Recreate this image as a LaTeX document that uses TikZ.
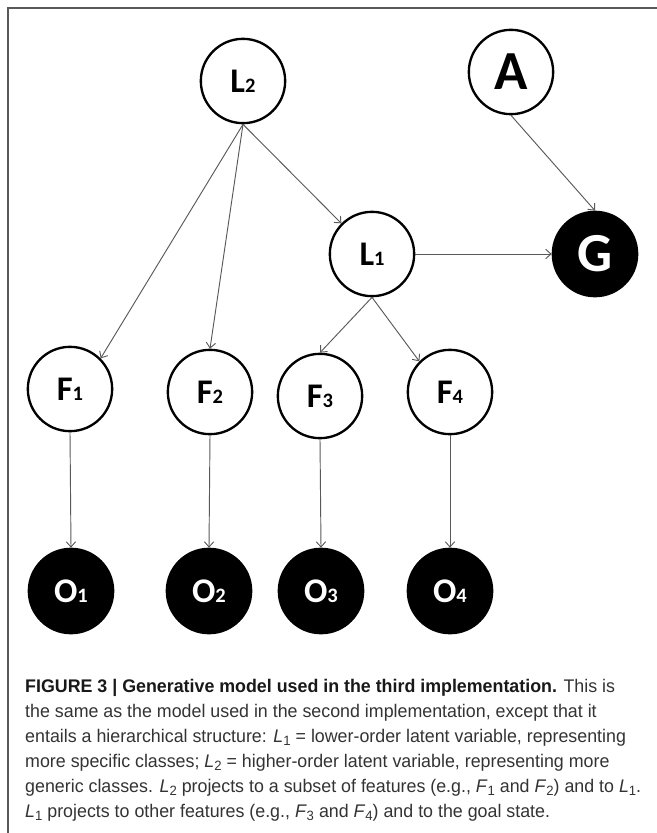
\documentclass[tikz,border=0pt]{standalone}
\usepackage{fontspec}
\setmainfont{Liberation Sans}[FakeStretch=0.975]
\newfontfamily\nodefont{Carlito}
\usetikzlibrary{arrows.meta}

\newcommand\nsub[1]{{\fontsize{17.5}{17.5}\selectfont #1}}
\newcommand\cvar[2]{\textit{#1}\raisebox{-0.35ex}{\fontsize{11.5}{11.5}\selectfont #2}}

\tikzset{
  latent/.style={circle, draw, line width=2pt, minimum size=2.53cm, inner sep=0pt, fill=white,
    font=\nodefont\bfseries\fontsize{29.5}{30}\selectfont},
  observed/.style={latent, fill=black, text=white},
  bigletter/.style={font=\nodefont\bfseries\fontsize{47}{47}\selectfont},
  link/.style={draw=black!65, line width=0.8pt, -{Straight Barb[length=4.5pt,width=8pt]}},
  caption/.style={anchor=base west, inner sep=0pt, text=black!80, font=\fontsize{15.6}{19}\selectfont},
}

\begin{document}
\begin{tikzpicture}[x=0.03cm, y=-0.03cm]
\useasboundingbox (0,0) rectangle (657,833);

\draw [black!65, line width=1.2pt] (8,833) -- (8,8) -- (657,8);

\node [latent] (L2) at (243,81) {L\nsub{2}};
\node [latent, bigletter] (A) at (511,72) {A};
\node [latent] (L1) at (372,254) {L\nsub{1}};
\node [observed, bigletter] (G) at (595,254) {G};

\node [latent] (F1) at (70,389) {F\nsub{1}};
\node [latent] (F2) at (210,392) {F\nsub{2}};
\node [latent] (F3) at (320,396) {F\nsub{3}};
\node [latent] (F4) at (450,392) {F\nsub{4}};

\node [observed] (O1) at (71,591) {O\nsub{1}};
\node [observed] (O2) at (209,591) {O\nsub{2}};
\node [observed] (O3) at (321,591) {O\nsub{3}};
\node [observed] (O4) at (450,591) {O\nsub{4}};

\draw [link] (L2.south) -- (F1.north east);
\draw [link] (L2.south) -- (F2.north);
\draw [link] (L2.south) -- (L1.north west);
\draw [link] (A.south) -- (G.north);
\draw [link] (L1.east) -- (G.west);
\draw [link] (L1.south) -- (F3.north);
\draw [link] (L1.south) -- (F4.north west);
\foreach \i in {1,...,4}
  \draw [link] (F\i.south) -- (O\i.north);

\node [caption] (cap1) at (25,692) {\textbf{\color{black!90}FIGURE 3 | Generative model used in the third implementation.} This is};
\node [caption] (cap2) at (25,717) {the same as the model used in the second implementation, except that it};
\node [caption] (cap3) at (25,742) {entails a hierarchical structure: \cvar{L}{1} = lower-order latent variable, representing};
\node [caption] (cap4) at (25,767) {more specific classes; \cvar{L}{2} = higher-order latent variable, representing more};
\node [caption] (cap5) at (25,792) {generic classes. \cvar{L}{2} projects to a subset of features (e.g., \cvar{F}{1} and \cvar{F}{2}) and to \cvar{L}{1}.};
\node [caption] (cap6) at (25,817) {\cvar{L}{1} projects to other features (e.g., \cvar{F}{3} and \cvar{F}{4}) and to the goal state.};
\end{tikzpicture}
\end{document}
